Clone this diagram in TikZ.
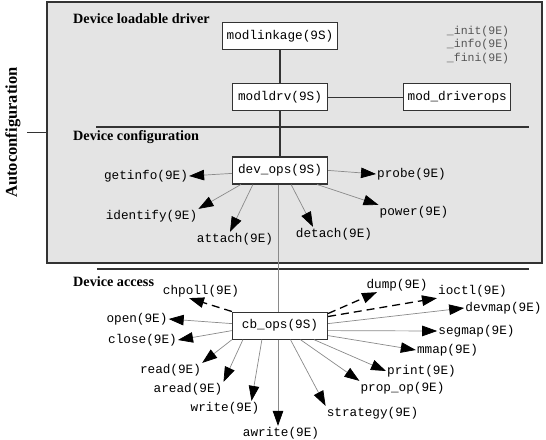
\documentclass[tikz,border=0pt]{standalone}
\usepackage{fontspec}
\setmainfont{Liberation Serif}
\setmonofont{Liberation Mono}
\definecolor{DRVpanel}{HTML}{E4E4E4}
\definecolor{DRVline}{HTML}{333333}
\definecolor{DRVthin}{HTML}{8A8A8A}
\definecolor{DRVnote}{HTML}{555555}
\usetikzlibrary{arrows.meta, positioning}

\begin{document}
\begin{tikzpicture}[
      x=1pt, y=-1pt,
      panel/.style={draw=DRVline, fill=DRVpanel, line width=1.3pt, minimum width=495pt,
                    minimum height=261pt, inner sep=0pt},
      box/.style={draw=DRVline, fill=white, line width=1.2pt, minimum width=95pt,
                  minimum height=27pt, inner xsep=4pt, font=\fontsize{12.7}{14}\ttfamily},
      lbl/.style={inner sep=1pt, font=\fontsize{12.7}{14}\ttfamily},
      sect/.style={anchor=west, inner sep=0pt, font=\fontsize{14.2}{16}\selectfont\bfseries},
      link/.style={DRVline, line width=1.3pt},
      arr/.style={-{Triangle[length=15pt, width=10.5pt, color=black]}, DRVthin, line width=0.7pt},
      darr/.style={arr, black, line width=1.3pt, dash pattern=on 8pt off 5pt}
   ]
      \useasboundingbox (0,0) rectangle (546,439);
      \node[panel] (autoconf) at (294.5,132.5) {};
      \node[rotate=90, font=\fontsize{16.5}{18}\selectfont\bfseries] (autolbl) at (13,132.5) {Autoconfiguration};
      \coordinate (tick) at (27,132.5);
      \draw[link] (tick) -- (autoconf.west);

      \node[sect] (loadlbl) at (73,19) {Device loadable driver};
      \node[sect] (conflbl) at (73,137) {Device configuration};
      \node[sect] (accesslbl) at (73,282) {Device access};
      \draw[link] (96,127) -- (529,127);
      \draw[link] (97,269) -- (529,269);

      \node[box] (modlinkage) at (280,36) {modlinkage(9S)};
      \node[box, below=33pt of modlinkage] (modldrv) {modldrv(9S)};
      \node[box, right=75pt of modldrv] (driverops) {mod\_driverops};
      \node[box, below=45pt of modldrv] (devops) {dev\_ops(9S)};
      \node[box, below=127pt of devops] (cbops) {cb\_ops(9S)};
      \node[lbl, text=DRVnote, font=\fontsize{11.5}{13.5}\ttfamily, align=left] (modentry) at (478,45)
         {\_init(9E)\\\_info(9E)\\\_fini(9E)};

      \draw[link] (modlinkage) -- (modldrv);
      \draw[link] (modldrv) -- (devops);
      \draw[link] (modldrv) -- (driverops);
      \draw[DRVthin, line width=0.7pt] ([xshift=-2pt]devops.south) -- ([xshift=-2pt]cbops.north);

      \node[lbl] (getinfo) at (146,176) {getinfo(9E)};
      \node[lbl] (identify) at (151.5,216) {identify(9E)};
      \node[lbl] (attach) at (235,239) {attach(9E)};
      \node[lbl] (detach) at (334,234) {detach(9E)};
      \node[lbl] (power) at (414,212) {power(9E)};
      \node[lbl] (probe) at (411.5,174) {probe(9E)};

      \draw[arr] ([yshift=-3pt]devops.west) -- (getinfo.east);
      \draw[arr] ([xshift=9pt]devops.south west) -- (identify.north east);
      \draw[arr] ([xshift=21pt]devops.south west) -- ([xshift=-5pt]attach.north);
      \draw[arr] ([xshift=-37pt]devops.south east) -- ([xshift=-21pt]detach.north);
      \draw[arr] ([xshift=-11pt]devops.south east) -- (power.north west);
      \draw[arr] (devops.east) -- (probe.west);

      \node[lbl] (chpoll) at (201,291) {chpoll(9E)};
      \node[lbl] (open) at (137,319) {open(9E)};
      \node[lbl] (close) at (142.5,340) {close(9E)};
      \node[lbl] (read) at (170.5,370) {read(9E)};
      \node[lbl] (aread) at (188,389) {aread(9E)};
      \node[lbl] (write) at (225,408) {write(9E)};
      \node[lbl] (awrite) at (281,433) {awrite(9E)};
      \node[lbl] (strategy) at (372.5,413) {strategy(9E)};
      \node[lbl] (propop) at (402.5,388) {prop\_op(9E)};
      \node[lbl] (print) at (421.5,371) {print(9E)};
      \node[lbl] (mmap) at (447.5,350) {mmap(9E)};
      \node[lbl] (segmap) at (476.5,331) {segmap(9E)};
      \node[lbl] (devmap) at (503.5,308) {devmap(9E)};
      \node[lbl] (ioctl) at (472.5,291) {ioctl(9E)};
      \node[lbl] (dump) at (397,285) {dump(9E)};

      \draw[darr] (cbops.north west) -- ([xshift=-12pt]chpoll.south);
      \draw[arr] ([yshift=2pt]cbops.west) -- (open.east);
      \draw[arr] ([yshift=-5pt]cbops.west) -- (close.east);
      \draw[arr] (cbops.south west) -- (read.north east);
      \draw[arr] ([xshift=11pt]cbops.south west) -- (aread.north east);
      \draw[arr] ([xshift=30pt]cbops.south west) -- ([xshift=-9pt]write.north east);
      \draw[arr] ([xshift=-2pt]cbops.south) -- ([xshift=-3pt]awrite.north);
      \draw[arr] ([xshift=10.5pt]cbops.south) -- (strategy.north west);
      \draw[arr] ([xshift=20.5pt]cbops.south) -- (propop.north west);
      \draw[arr] ([xshift=-14pt]cbops.south east) -- (print.west);
      \draw[arr] ([yshift=-10pt]cbops.east) -- (mmap.west);
      \draw[arr] ([yshift=-5pt]cbops.east) -- (segmap.west);
      \draw[arr] ([yshift=2pt]cbops.east) -- (devmap.west);
      \draw[darr] ([yshift=-5pt]cbops.north east) -- (ioctl.south west);
      \draw[darr] ([yshift=-2pt]cbops.north east) -- ([xshift=-20pt]dump.south);
   \end{tikzpicture}
\end{document}
